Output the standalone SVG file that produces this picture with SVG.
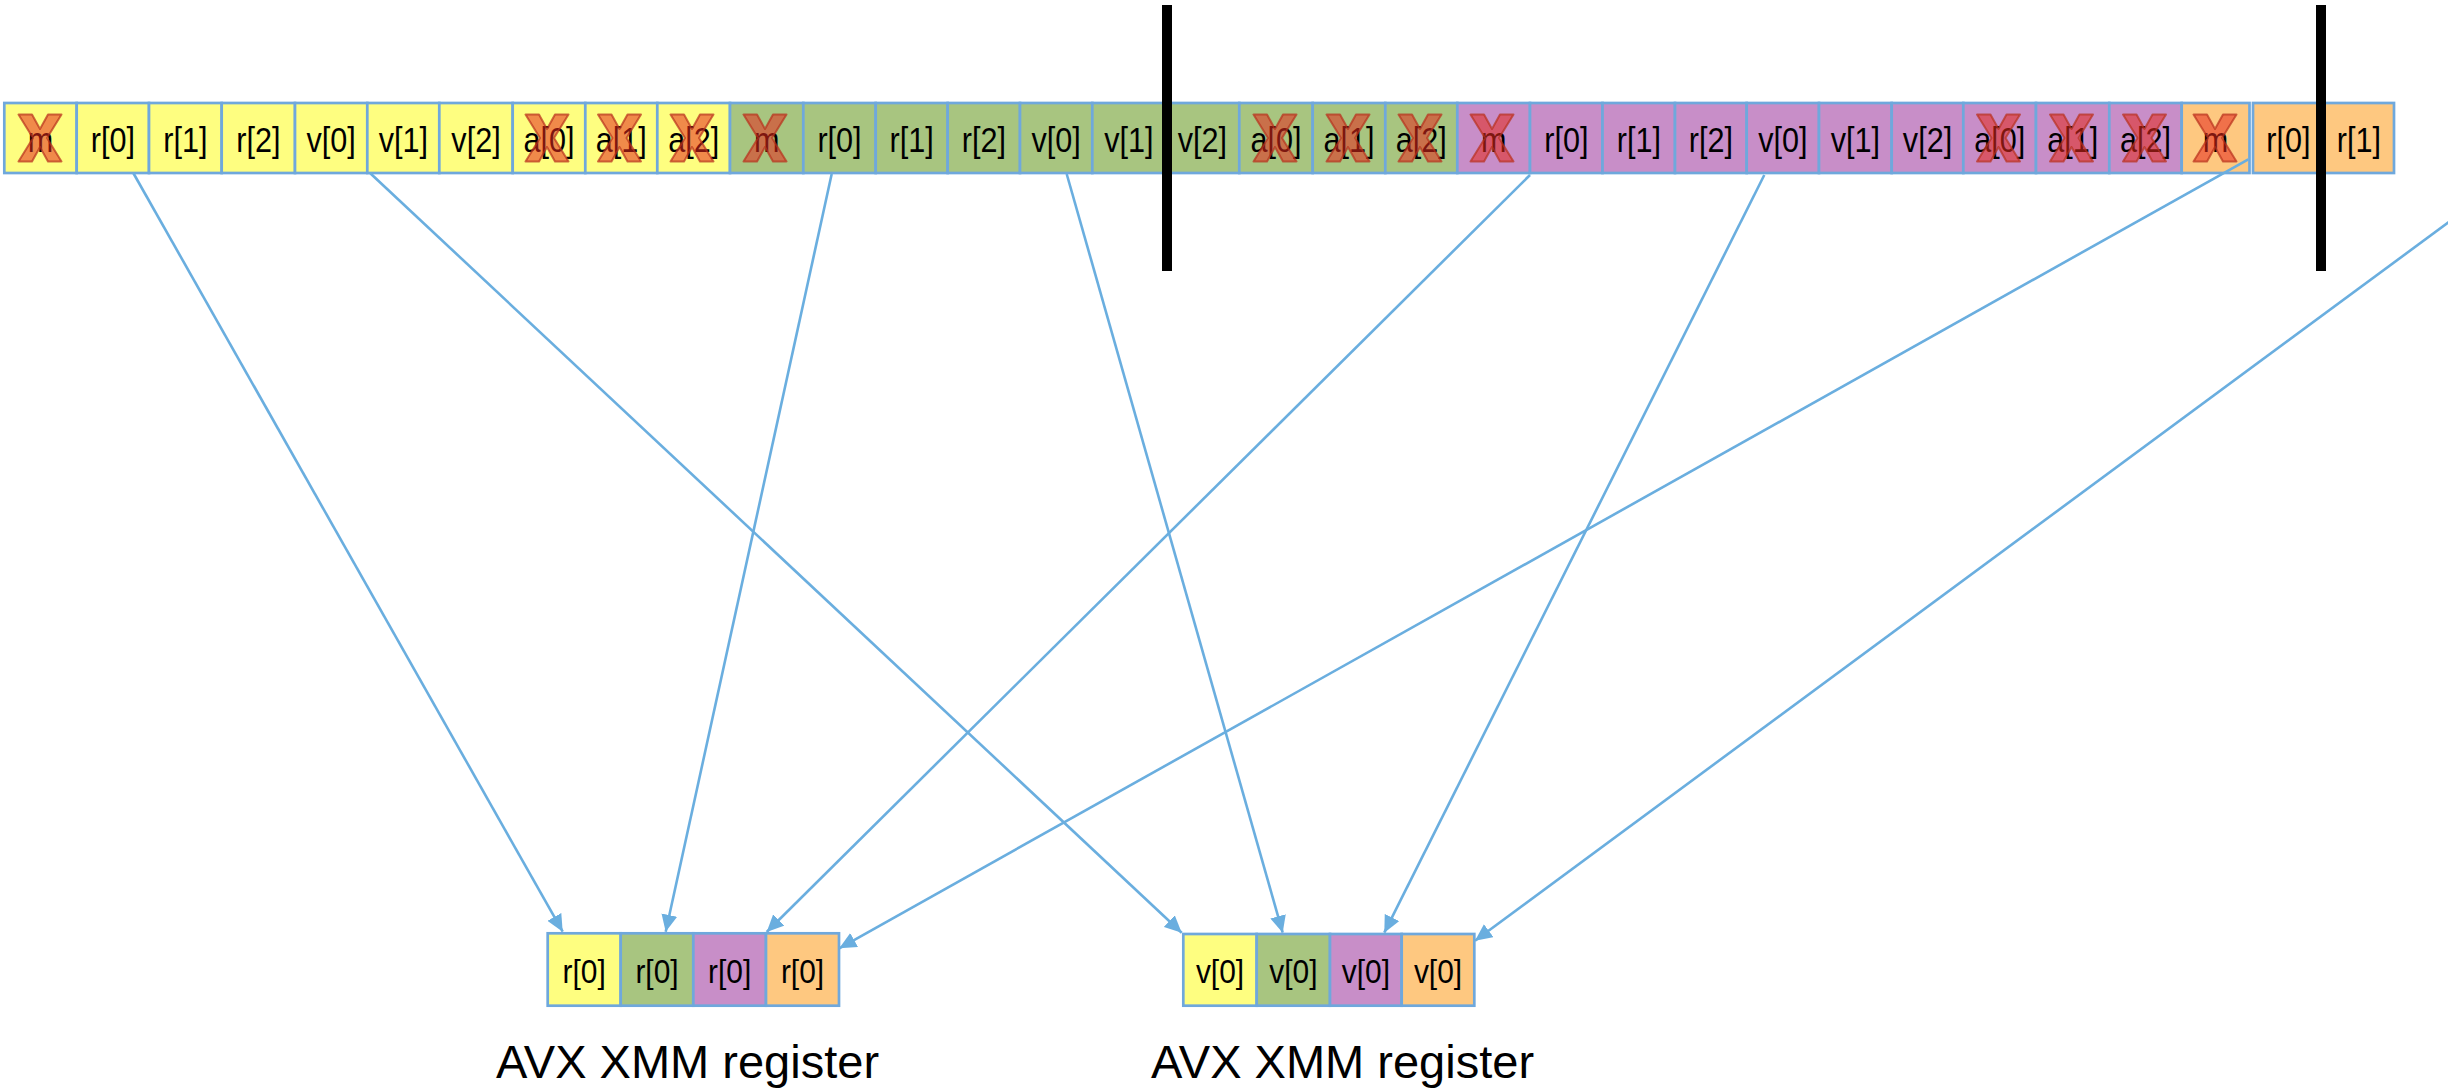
<svg xmlns="http://www.w3.org/2000/svg" xmlns:xlink="http://www.w3.org/1999/xlink" width="2448" height="1088" viewBox="0 0 2448 1088">
  <style>
    .cell { stroke: #6fa8dc; stroke-width: 2.7; }
    .y { fill: #fefe80; }
    .g { fill: #a8c580; }
    .p { fill: #c88ec8; }
    .o { fill: #fec880; }
    .t { font-family: "Liberation Sans", Arial, sans-serif; font-size: 36px; text-anchor: middle; fill: #000; }
    .rt { font-size: 34px; }
    .lbl { font-family: "Liberation Sans", Arial, sans-serif; font-size: 47px; fill: #000; }
    .conn { fill: none; stroke: #6aaedf; stroke-width: 2.6; marker-end: url(#ah); }
    .bar { fill: #000; }
    .xm { fill: #e42a1e; fill-opacity: 0.55; stroke: #b8301c; stroke-opacity: 0.7; stroke-width: 2; stroke-linejoin: round; }
  </style>
  <defs>
    <marker id="ah" markerUnits="userSpaceOnUse" markerWidth="18" markerHeight="16" viewBox="0 0 18 16" refX="17" refY="8" orient="auto">
      <path d="M0,0 L17,8 L0,16 z" fill="#6aaedf"/>
    </marker>
    <!-- cross mark for discarded fields -->
    <polygon id="xm" class="xm" points="-21.5,-23.5 -8,-23.5 0,-9 8,-23.5 21.5,-23.5 7,0 21.5,23.5 8,23.5 0,9 -8,23.5 -21.5,23.5 -7,0"/>
  </defs>

  <!-- memory layout: array of structs -->
  <g id="mem">
    <g id="s0-m"><rect class="cell y" x="4.3" y="103" width="72.4" height="70"/><text class="t" transform="translate(40.5 152) scale(.85 1)">m</text><use xlink:href="#xm" x="40" y="138"/></g>
    <g id="s0-r0"><rect class="cell y" x="76.7" y="103" width="72.3" height="70"/><text class="t" transform="translate(112.9 152) scale(.85 1)">r[0]</text></g>
    <g id="s0-r1"><rect class="cell y" x="149" y="103" width="72.7" height="70"/><text class="t" transform="translate(185.4 152) scale(.85 1)">r[1]</text></g>
    <g id="s0-r2"><rect class="cell y" x="221.7" y="103" width="73.3" height="70"/><text class="t" transform="translate(258.4 152) scale(.85 1)">r[2]</text></g>
    <g id="s0-v0"><rect class="cell y" x="295" y="103" width="72.3" height="70"/><text class="t" transform="translate(331.2 152) scale(.85 1)">v[0]</text></g>
    <g id="s0-v1"><rect class="cell y" x="367.3" y="103" width="72" height="70"/><text class="t" transform="translate(403.3 152) scale(.85 1)">v[1]</text></g>
    <g id="s0-v2"><rect class="cell y" x="439.3" y="103" width="73.4" height="70"/><text class="t" transform="translate(476 152) scale(.85 1)">v[2]</text></g>
    <g id="s0-a0"><rect class="cell y" x="512.7" y="103" width="72.6" height="70"/><text class="t" transform="translate(549 152) scale(.85 1)">a[0]</text><use xlink:href="#xm" x="547" y="138"/></g>
    <g id="s0-a1"><rect class="cell y" x="585.3" y="103" width="72" height="70"/><text class="t" transform="translate(621.3 152) scale(.85 1)">a[1]</text><use xlink:href="#xm" x="619.5" y="138"/></g>
    <g id="s0-a2"><rect class="cell y" x="657.3" y="103" width="72.7" height="70"/><text class="t" transform="translate(693.7 152) scale(.85 1)">a[2]</text><use xlink:href="#xm" x="692" y="138"/></g>

    <g id="s1-m"><rect class="cell g" x="730" y="103" width="73.3" height="70"/><text class="t" transform="translate(766.7 152) scale(.85 1)">m</text><use xlink:href="#xm" x="765" y="138"/></g>
    <g id="s1-r0"><rect class="cell g" x="803.3" y="103" width="72.4" height="70"/><text class="t" transform="translate(839.5 152) scale(.85 1)">r[0]</text></g>
    <g id="s1-r1"><rect class="cell g" x="875.7" y="103" width="72" height="70"/><text class="t" transform="translate(911.7 152) scale(.85 1)">r[1]</text></g>
    <g id="s1-r2"><rect class="cell g" x="947.7" y="103" width="72.3" height="70"/><text class="t" transform="translate(983.9 152) scale(.85 1)">r[2]</text></g>
    <g id="s1-v0"><rect class="cell g" x="1020" y="103" width="72.3" height="70"/><text class="t" transform="translate(1056.2 152) scale(.85 1)">v[0]</text></g>
    <g id="s1-v1"><rect class="cell g" x="1092.3" y="103" width="73.2" height="70"/><text class="t" transform="translate(1128.9 152) scale(.85 1)">v[1]</text></g>
    <g id="s1-v2"><rect class="cell g" x="1165.5" y="103" width="73.8" height="70"/><text class="t" transform="translate(1202.4 152) scale(.85 1)">v[2]</text></g>
    <g id="s1-a0"><rect class="cell g" x="1239.3" y="103" width="73.4" height="70"/><text class="t" transform="translate(1276 152) scale(.85 1)">a[0]</text><use xlink:href="#xm" x="1275" y="138"/></g>
    <g id="s1-a1"><rect class="cell g" x="1312.7" y="103" width="72.6" height="70"/><text class="t" transform="translate(1349 152) scale(.85 1)">a[1]</text><use xlink:href="#xm" x="1348" y="138"/></g>
    <g id="s1-a2"><rect class="cell g" x="1385.3" y="103" width="72" height="70"/><text class="t" transform="translate(1421.3 152) scale(.85 1)">a[2]</text><use xlink:href="#xm" x="1420" y="138"/></g>

    <g id="s2-m"><rect class="cell p" x="1457.3" y="103" width="72.7" height="70"/><text class="t" transform="translate(1493.7 152) scale(.85 1)">m</text><use xlink:href="#xm" x="1492" y="138"/></g>
    <g id="s2-r0"><rect class="cell p" x="1530" y="103" width="72.5" height="70"/><text class="t" transform="translate(1566.3 152) scale(.85 1)">r[0]</text></g>
    <g id="s2-r1"><rect class="cell p" x="1602.5" y="103" width="72.5" height="70"/><text class="t" transform="translate(1638.8 152) scale(.85 1)">r[1]</text></g>
    <g id="s2-r2"><rect class="cell p" x="1675" y="103" width="71.7" height="70"/><text class="t" transform="translate(1710.9 152) scale(.85 1)">r[2]</text></g>
    <g id="s2-v0"><rect class="cell p" x="1746.7" y="103" width="72.3" height="70"/><text class="t" transform="translate(1782.9 152) scale(.85 1)">v[0]</text></g>
    <g id="s2-v1"><rect class="cell p" x="1819" y="103" width="72.7" height="70"/><text class="t" transform="translate(1855.4 152) scale(.85 1)">v[1]</text></g>
    <g id="s2-v2"><rect class="cell p" x="1891.7" y="103" width="71.6" height="70"/><text class="t" transform="translate(1927.5 152) scale(.85 1)">v[2]</text></g>
    <g id="s2-a0"><rect class="cell p" x="1963.3" y="103" width="72.7" height="70"/><text class="t" transform="translate(1999.7 152) scale(.85 1)">a[0]</text><use xlink:href="#xm" x="1998.5" y="138"/></g>
    <g id="s2-a1"><rect class="cell p" x="2036" y="103" width="73.3" height="70"/><text class="t" transform="translate(2072.7 152) scale(.85 1)">a[1]</text><use xlink:href="#xm" x="2071.5" y="138"/></g>
    <g id="s2-a2"><rect class="cell p" x="2109.3" y="103" width="72.4" height="70"/><text class="t" transform="translate(2145.5 152) scale(.85 1)">a[2]</text><use xlink:href="#xm" x="2144.5" y="138"/></g>

    <g id="s3-m"><rect class="cell o" x="2181.7" y="103" width="67.8" height="70"/><text class="t" transform="translate(2215.6 152) scale(.85 1)">m</text><use xlink:href="#xm" x="2215" y="138"/></g>
    <g id="s3-r0"><rect class="cell o" x="2253" y="103" width="70.5" height="70"/><text class="t" transform="translate(2288.3 152) scale(.85 1)">r[0]</text></g>
    <g id="s3-r1"><rect class="cell o" x="2323.5" y="103" width="70.5" height="70"/><text class="t" transform="translate(2358.8 152) scale(.85 1)">r[1]</text></g>
  </g>

  <!-- cache line boundaries -->
  <g id="boundaries">
    <rect class="bar" x="1162" y="5" width="10" height="266"/>
    <rect class="bar" x="2316" y="5" width="10" height="266"/>
  </g>

  <!-- register holding r[0] of four structs -->
  <g id="reg-r">
    <g id="reg-r-0"><rect class="cell y" x="547.7" y="933.3" width="73" height="72.4"/><text class="t rt" transform="translate(584.2 983) scale(.88 1)">r[0]</text></g>
    <g id="reg-r-1"><rect class="cell g" x="620.7" y="933.3" width="72.6" height="72.4"/><text class="t rt" transform="translate(657 983) scale(.88 1)">r[0]</text></g>
    <g id="reg-r-2"><rect class="cell p" x="693.3" y="933.3" width="72.7" height="72.4"/><text class="t rt" transform="translate(729.7 983) scale(.88 1)">r[0]</text></g>
    <g id="reg-r-3"><rect class="cell o" x="766" y="933.3" width="73" height="72.4"/><text class="t rt" transform="translate(802.5 983) scale(.88 1)">r[0]</text></g>
  </g>

  <!-- register holding v[0] of four structs -->
  <g id="reg-v">
    <g id="reg-v-0"><rect class="cell y" x="1183.3" y="934" width="73.4" height="71.7"/><text class="t rt" transform="translate(1220 983) scale(.88 1)">v[0]</text></g>
    <g id="reg-v-1"><rect class="cell g" x="1256.7" y="934" width="73.3" height="71.7"/><text class="t rt" transform="translate(1293.4 983) scale(.88 1)">v[0]</text></g>
    <g id="reg-v-2"><rect class="cell p" x="1330" y="934" width="71.7" height="71.7"/><text class="t rt" transform="translate(1365.9 983) scale(.88 1)">v[0]</text></g>
    <g id="reg-v-3"><rect class="cell o" x="1401.7" y="934" width="72.6" height="71.7"/><text class="t rt" transform="translate(1438 983) scale(.88 1)">v[0]</text></g>
  </g>

  <g id="labels">
    <text class="lbl" x="496" y="1078">AVX XMM register</text>
    <text class="lbl" x="1151" y="1078">AVX XMM register</text>
  </g>

  <!-- gather connectors -->
  <g id="connectors">
    <line class="conn" x1="133.3" y1="173" x2="562.7" y2="931.7"/>
    <line class="conn" x1="370" y1="173" x2="1181.7" y2="932.7"/>
    <line class="conn" x1="831.7" y1="174" x2="665.7" y2="931.7"/>
    <line class="conn" x1="1066.7" y1="174" x2="1282.7" y2="932.7"/>
    <line class="conn" x1="1530" y1="175" x2="766.7" y2="932"/>
    <line class="conn" x1="1764.3" y1="175" x2="1384.3" y2="932.7"/>
    <line class="conn" x1="2248.3" y1="159.3" x2="839.3" y2="948.3"/>
    <line class="conn" x1="2452" y1="219.7" x2="1475" y2="940.7"/>
  </g>
</svg>
